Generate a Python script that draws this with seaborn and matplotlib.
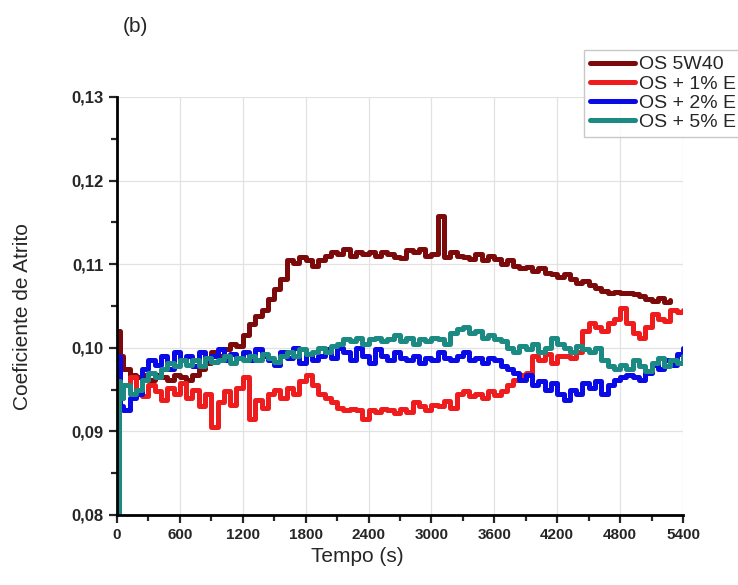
import numpy as np
import pandas as pd
import matplotlib
matplotlib.use("Agg")
import matplotlib.pyplot as plt
import seaborn as sns
from matplotlib.ticker import MultipleLocator, FuncFormatter

# time grid (s): a few early samples, then every 60 s
time = [0, 15, 30] + list(range(60, 5401, 60))

os_5w40 = [0.096, 0.102, 0.099,
           0.0975, 0.0968, 0.0965, 0.0968, 0.0962, 0.0967, 0.0965, 0.0962, 0.0968, 0.0965,
           0.0962, 0.0968, 0.0975, 0.0982, 0.0995, 0.0990, 0.0998, 0.1005, 0.1002, 0.1015,
           0.1028, 0.1038, 0.1045, 0.1058, 0.1070, 0.1082, 0.1105, 0.1102, 0.1108, 0.1105,
           0.1098, 0.1105, 0.1110, 0.1115, 0.1112, 0.1118, 0.1110, 0.1115, 0.1112, 0.1115,
           0.1110, 0.1115, 0.1112, 0.1108, 0.1107, 0.1117, 0.1115, 0.1118, 0.1110, 0.1112,
           0.1158, 0.1108, 0.1115, 0.1110, 0.1108, 0.1106, 0.1112, 0.1105, 0.1110, 0.1106,
           0.1100, 0.1105, 0.1098, 0.1095, 0.1097, 0.1092, 0.1095, 0.1090, 0.1088, 0.1085,
           0.1088, 0.1082, 0.1078, 0.1080, 0.1075, 0.1072, 0.1068, 0.1066, 0.1067, 0.1065,
           0.1066, 0.1064, 0.1062, 0.1058, 0.1056, 0.1060, 0.1055, 0.1057, np.nan, np.nan]

os_1e = [0.092, 0.099, 0.094,
         0.0955, 0.0965, 0.0950, 0.0942, 0.0955, 0.0948, 0.0938, 0.0952, 0.0945, 0.0958,
         0.0940, 0.0950, 0.0930, 0.0945, 0.0905, 0.0935, 0.0948, 0.0932, 0.0952, 0.0965,
         0.0915, 0.0938, 0.0928, 0.0945, 0.0950, 0.0940, 0.0952, 0.0945, 0.0960, 0.0967,
         0.0955, 0.0945, 0.0940, 0.0935, 0.0928, 0.0925, 0.0927, 0.0925, 0.0915, 0.0925,
         0.0923, 0.0927, 0.0925, 0.0922, 0.0927, 0.0923, 0.0935, 0.0930, 0.0925, 0.0932,
         0.0930, 0.0936, 0.0928, 0.0945, 0.0948, 0.0942, 0.0945, 0.0940, 0.0948, 0.0943,
         0.0948, 0.0955, 0.0962, 0.0967, 0.0970, 0.0990, 0.0985, 0.0992, 0.0982, 0.0990,
         0.0990, 0.0988, 0.0995, 0.1020, 0.1030, 0.1025, 0.1020, 0.1030, 0.1035, 0.1048,
         0.1030, 0.1018, 0.1012, 0.1025, 0.1040, 0.1035, 0.1032, 0.1045, 0.1043, 0.1045]

os_2e = [0.091, 0.099, 0.093,
         0.0925, 0.0940, 0.0945, 0.0975, 0.0985, 0.0980, 0.0990, 0.0975, 0.0995, 0.0985,
         0.0990, 0.0978, 0.0995, 0.0985, 0.0990, 0.0998, 0.0985, 0.0992, 0.0988, 0.0995,
         0.0985, 0.0998, 0.0990, 0.0985, 0.0980, 0.0995, 0.0988, 0.1000, 0.0982, 0.0992,
         0.0985, 0.0990, 0.0998, 0.0988, 0.1000, 0.0995, 0.0985, 0.1000, 0.0990, 0.0982,
         0.0998, 0.0990, 0.0985, 0.0995, 0.0988, 0.0985, 0.0990, 0.0982, 0.0988, 0.0985,
         0.0995, 0.0988, 0.0985, 0.0990, 0.0995, 0.0985, 0.0988, 0.0982, 0.0988, 0.0985,
         0.0978, 0.0975, 0.0970, 0.0962, 0.0968, 0.0955, 0.0960, 0.0950, 0.0958, 0.0945,
         0.0938, 0.0950, 0.0945, 0.0958, 0.0952, 0.0960, 0.0945, 0.0955, 0.0962, 0.0965,
         0.0968, 0.0965, 0.0962, 0.0970, 0.0980, 0.0975, 0.0985, 0.0980, 0.0992, 0.1000]

os_5e = [0.080, 0.096, 0.094,
         0.0955, 0.0945, 0.0950, 0.0962, 0.0970, 0.0965, 0.0975, 0.0982, 0.0978, 0.0985,
         0.0980, 0.0985, 0.0978, 0.0988, 0.0983, 0.0985, 0.0990, 0.0982, 0.0988, 0.0985,
         0.0990, 0.0985, 0.0992, 0.0988, 0.0983, 0.0990, 0.0995, 0.0990, 0.0998, 0.0993,
         0.0995, 0.1000, 0.0995, 0.1002, 0.1005, 0.1010, 0.1008, 0.1012, 0.1005, 0.1010,
         0.1012, 0.1008, 0.1010, 0.1015, 0.1008, 0.1012, 0.1005, 0.1010, 0.1008, 0.1012,
         0.1010, 0.1005, 0.1018, 0.1022, 0.1025, 0.1018, 0.1020, 0.1012, 0.1015, 0.1010,
         0.1008, 0.1000, 0.0995, 0.1002, 0.0998, 0.1005, 0.0995, 0.1000, 0.1012, 0.1005,
         0.1000, 0.0995, 0.1002, 0.0998, 0.0995, 0.1000, 0.0985, 0.0978, 0.0975, 0.0980,
         0.0975, 0.0985, 0.0978, 0.0972, 0.0982, 0.0988, 0.0978, 0.0985, 0.0982, 0.0990]

labels = ["OS 5W40", "OS + 1% E", "OS + 2% E", "OS + 5% E"]
colors = ["#7d0a0a", "#ee1c1c", "#0a0ae6", "#1a8a82"]

df = pd.concat([
    pd.DataFrame({"Tempo": time, "COF": vals, "Amostra": lab})
    for vals, lab in zip([os_5w40, os_1e, os_2e, os_5e], labels)
], ignore_index=True)

sns.set_style("white")
plt.rcParams["font.family"] = ["Liberation Sans", "DejaVu Sans"]

fig = plt.figure(figsize=(7.38, 5.85), dpi=100)
ax = fig.add_axes([0.1585, 0.1197, 0.7670, 0.7145])

sns.lineplot(data=df, x="Tempo", y="COF", hue="Amostra", hue_order=labels,
             palette=colors, estimator=None, sort=False, linewidth=3.6,
             drawstyle="steps-post", ax=ax)

ax.set_xlim(0, 5400)
ax.set_ylim(0.08, 0.13)
ax.xaxis.set_major_locator(MultipleLocator(600))
ax.xaxis.set_minor_locator(MultipleLocator(300))
ax.yaxis.set_major_locator(MultipleLocator(0.01))
ax.yaxis.set_minor_locator(MultipleLocator(0.005))
ax.yaxis.set_major_formatter(FuncFormatter(lambda v, p: f"{v:.2f}".replace(".", ",")))

ax.grid(True, which="major", color="#e2e2e2", linewidth=0.9)
for s in ["top", "right"]:
    ax.spines[s].set_visible(False)
for s in ["left", "bottom"]:
    ax.spines[s].set_color("black")
    ax.spines[s].set_linewidth(2)
ax.tick_params(which="major", direction="out", length=6, width=1.6,
               labelsize=11, bottom=True, left=True)
ax.tick_params(which="minor", direction="out", length=4, width=1.6,
               bottom=True, left=True)
ax.tick_params(axis="y", labelsize=12)
for lab in ax.get_xticklabels() + ax.get_yticklabels():
    lab.set_fontweight("bold")

ax.set_xlabel("Tempo (s)", fontsize=15)
ax.set_ylabel("Coeficiente de Atrito", fontsize=15)
ax.xaxis.set_label_coords(0.424, -0.076)
ax.yaxis.set_label_coords(-0.150, 0.474)

handles, _ = ax.get_legend_handles_labels()
ax.get_legend().remove()
leg = fig.legend(handles, labels, loc="upper left",
                 bbox_to_anchor=(584 / 738, 1 - 50 / 585), fontsize=14,
                 frameon=True, fancybox=False, edgecolor="#bbbbbb",
                 handlelength=2.3, handletextpad=0.25, labelspacing=0.08,
                 borderpad=0.3, borderaxespad=0)
leg.get_frame().set_linewidth(1)

fig.text(135 / 738, 1 - 26 / 585, "(b)", fontsize=15, ha="center", va="center")

fig.savefig("out.png", dpi=100)
